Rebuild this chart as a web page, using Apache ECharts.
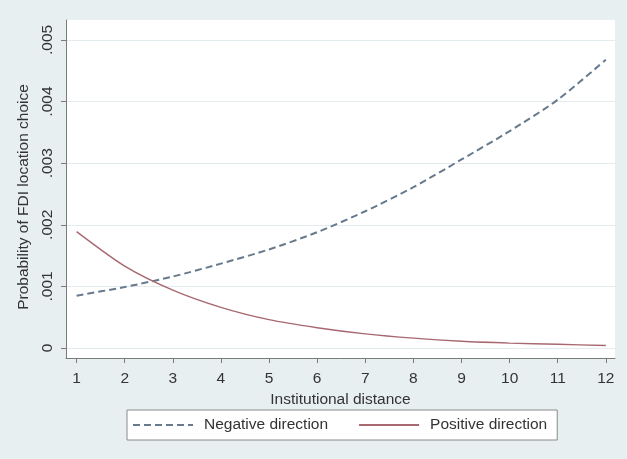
<!DOCTYPE html>
<html>
<head>
<meta charset="utf-8">
<script src="https://cdn.jsdelivr.net/npm/echarts@6/dist/echarts.min.js"></script>
<style>
html,body{margin:0;padding:0;background:#e8eff1;}
#chart{width:627px;height:459px;}
</style>
</head>
<body>
<div id="chart"></div>
<script>
const distance = [1, 2, 3, 4, 5, 6, 7, 8, 9, 10, 11, 12];
const negativeDirection = [0.00085, 0.00099, 0.00116, 0.00137, 0.0016, 0.00188, 0.00222, 0.00261, 0.00306, 0.00352, 0.00403, 0.00468];
const positiveDirection = [0.00189, 0.00133, 0.00094, 0.00066, 0.00046, 0.00033, 0.00023, 0.00016, 0.00011, 0.00008, 0.00006, 0.00004];
const xTicks = [1, 2, 3, 4, 5, 6, 7, 8, 9, 10, 11, 12];
const yTicks = [0, 0.001, 0.002, 0.003, 0.004, 0.005];
const yTickLabels = ["0", ".001", ".002", ".003", ".004", ".005"];

const font = 'Liberation Sans, Arial, sans-serif';
const textColor = '#333';
const axisColor = '#7a7a7a';

const chart = echarts.init(document.getElementById('chart'));
chart.setOption({
  backgroundColor: '#e8eff1',
  animation: false,
  textStyle: { fontFamily: font },
  grid: {
    left: 66, right: 12, top: 20, bottom: 101,
    show: true, backgroundColor: '#ffffff', borderWidth: 0
  },
  xAxis: {
    type: 'value',
    min: 0.78, max: 12.19,
    name: 'Institutional distance',
    nameLocation: 'middle',
    nameGap: 28,
    nameTextStyle: { color: textColor, fontSize: 15.5, fontFamily: font, verticalAlign: 'top' },
    axisLine: { show: true, onZero: false, lineStyle: { color: axisColor, width: 1 } },
    axisTick: { show: true, length: 5, customValues: xTicks, lineStyle: { color: axisColor } },
    axisLabel: { customValues: xTicks, margin: 13, color: textColor, fontSize: 15.5, fontFamily: font },
    splitLine: { show: false }
  },
  yAxis: {
    type: 'value',
    min: -0.000162, max: 0.005324,
    name: 'Probability of FDI location choice',
    nameLocation: 'middle',
    nameRotate: 90,
    nameGap: 33,
    nameTextStyle: { color: textColor, fontSize: 15.5, fontFamily: font, padding: [0, 16, 0, 0] },
    axisLine: { show: true, lineStyle: { color: axisColor, width: 1 } },
    axisTick: { show: true, length: 5, customValues: yTicks, lineStyle: { color: axisColor } },
    axisLabel: {
      customValues: yTicks, rotate: 90, margin: 10, color: textColor, fontSize: 15.5, fontFamily: font,
      formatter: function (v) {
        for (let i = 0; i < yTicks.length; i++) {
          if (Math.abs(yTicks[i] - v) < 1e-9) return yTickLabels[i];
        }
        return '';
      }
    },
    splitLine: { show: true, lineStyle: { color: '#e4ebee', width: 1 } }
  },
  legend: {
    left: 127, top: 410,
    padding: [7, 10, 7, 5],
    itemGap: 30,
    itemWidth: 60, itemHeight: 14,
    backgroundColor: '#ffffff',
    borderColor: '#8a8a8a', borderWidth: 1, borderRadius: 0,
    itemStyle: { opacity: 0 },
    textStyle: { color: textColor, fontSize: 15.5, fontFamily: font, padding: [0, 0, 0, 6] },
    data: ['Negative direction', 'Positive direction']
  },
  series: [
    {
      name: 'Negative direction',
      type: 'line',
      symbol: 'none',
      smooth: 0.25,
      data: distance.map((d, i) => [d, negativeDirection[i]]),
      lineStyle: { color: '#66798d', width: 2, type: [7, 4] },
      itemStyle: { color: '#66798d' }
    },
    {
      name: 'Positive direction',
      type: 'line',
      symbol: 'none',
      smooth: 0.25,
      data: distance.map((d, i) => [d, positiveDirection[i]]),
      lineStyle: { color: '#a86870', width: 1.4 },
      itemStyle: { color: '#a86870' }
    }
  ]
});
</script>
</body>
</html>
